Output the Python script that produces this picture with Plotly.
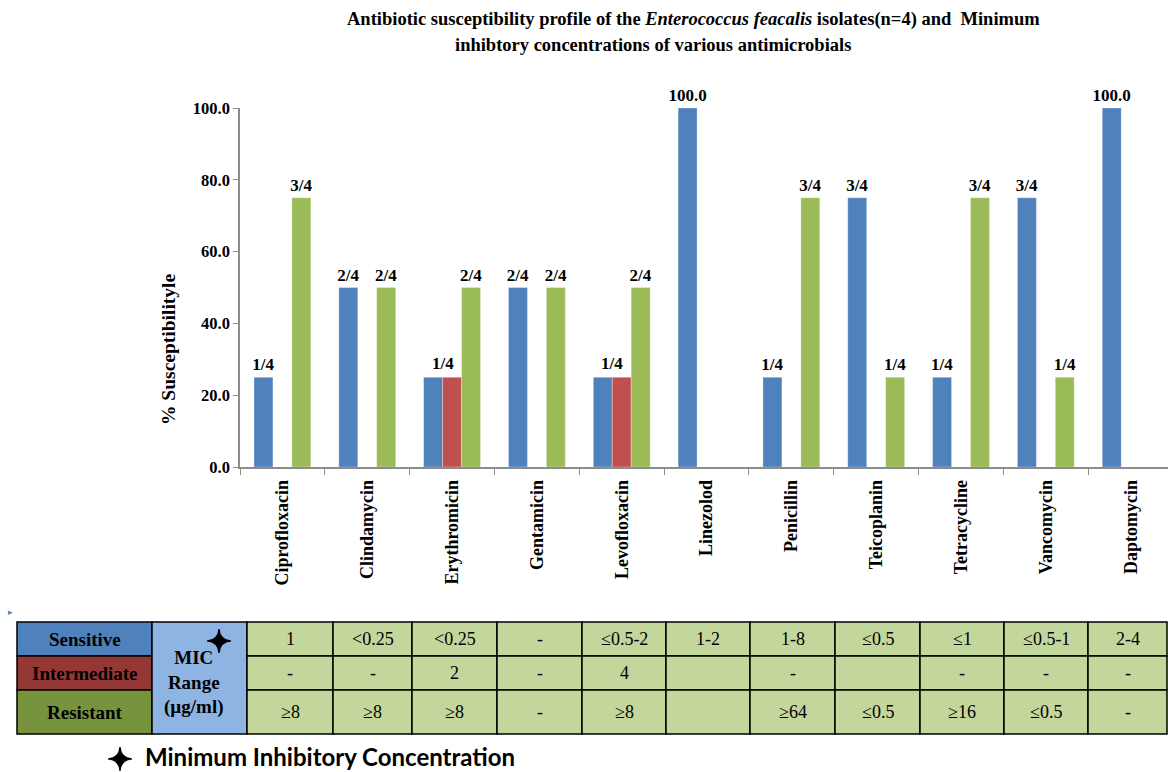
import plotly.graph_objects as go

# ---------------- data ----------------
antibiotics = ["Ciprofloxacin", "Clindamycin", "Erythromicin", "Gentamicin", "Levofloxacin",
               "Linezolod", "Penicillin", "Teicoplanin", "Tetracycline", "Vancomycin", "Daptomycin"]
sensitive = [25, 50, 25, 50, 25, 100, 25, 75, 25, 75, 100]
intermediate = [None, None, 25, None, 25, None, None, None, None, None, None]
resistant = [75, 50, 50, 50, 50, None, 75, 25, 75, 25, None]

sensitive_labels = ["1/4", "2/4", "", "2/4", "", "100.0", "1/4", "3/4", "1/4", "3/4", "100.0"]
intermediate_labels = ["", "", "1/4", "", "1/4", "", "", "", "", "", ""]
resistant_labels = ["3/4", "2/4", "2/4", "2/4", "2/4", "", "3/4", "1/4", "3/4", "1/4", ""]

mic_sensitive = ["1", "<0.25", "<0.25", "-", "≤0.5-2", "1-2", "1-8", "≤0.5", "≤1", "≤0.5-1", "2-4"]
mic_intermediate = ["-", "-", "2", "-", "4", "", "-", "", "-", "-", "-"]
mic_resistant = ["≥8", "≥8", "≥8", "-", "≥8", "", "≥64", "≤0.5", "≥16", "≤0.5", "-"]

row_names = ["Sensitive", "Intermediate", "Resistant"]
row_colors = ["#4F81BD", "#953735", "#77933C"]

W, H = 1168, 772
SERIF = "Liberation Serif, Times New Roman, serif"
BAR_W_PX = 19  # approximate rendered bar width, used to centre the shared labels

def px(x):
    return x / W

def py(y):
    return 1 - y / H

fig = go.Figure()
bar_text_font = dict(family=SERIF, size=17, color="black")
for name, vals, labels, color in [
    ("Sensitive", sensitive, sensitive_labels, "#4F81BD"),
    ("Intermediate", intermediate, [""] * len(antibiotics), "#C0504D"),
    ("Resistant", resistant, resistant_labels, "#9BBB59"),
]:
    fig.add_trace(go.Bar(
        x=antibiotics, y=vals, name=name,
        marker=dict(color=color, line=dict(color="rgba(255,255,255,0.6)", width=0.5)),
        text=["<b>%s</b>" % t if t else "" for t in labels], textposition="outside",
        textfont=bar_text_font, cliponaxis=False, constraintext="none",
    ))

fig.update_layout(
    width=W, height=H, autosize=False,
    margin=dict(l=0, r=0, t=0, b=0),
    paper_bgcolor="white", plot_bgcolor="white",
    barmode="group", bargap=0.33, bargroupgap=0,
    showlegend=False,
    xaxis=dict(domain=[px(240), 1.0], range=[-0.5, 10.44], type="category",
               showline=True, linecolor="#8C8C8C", linewidth=1.5,
               ticks="outside", tickson="boundaries", ticklen=6, tickcolor="#8C8C8C",
               tickangle=-90, tickfont=dict(family=SERIF, size=18, color="black"),
               ticklabelstandoff=4,
               showgrid=False, automargin=False,
               tickvals=antibiotics, ticktext=["<b>%s</b>" % a for a in antibiotics]),
    yaxis=dict(domain=[py(467), py(108)], range=[0, 100],
               tickvals=[0, 20, 40, 60, 80, 100],
               ticktext=["<b>%.1f</b>" % v for v in [0, 20, 40, 60, 80, 100]],
               showline=True, linecolor="#8C8C8C", linewidth=1.5,
               ticks="outside", ticklen=5, tickcolor="#8C8C8C",
               tickfont=dict(family=SERIF, size=16.5, color="black"),
               showgrid=False, zeroline=False, automargin=False),
)

ann = []
# shared labels for the sensitive/intermediate pairs
for a, v, t in zip(antibiotics, intermediate, intermediate_labels):
    if t:
        ann.append(dict(x=a, y=v, xref="x", yref="y", showarrow=False, text="<b>%s</b>" % t,
                        font=bar_text_font, xanchor="center", yanchor="bottom",
                        xshift=-BAR_W_PX / 2, yshift=2))
# title
ann.append(dict(x=px(693), y=py(20), xref="paper", yref="paper", showarrow=False,
                text="<b>Antibiotic susceptibility profile of the <i>Enterococcus feacalis</i> isolates(n=4) and  Minimum</b>",
                font=dict(family=SERIF, size=18.5, color="black"), xanchor="center", yanchor="middle"))
ann.append(dict(x=px(653), y=py(45), xref="paper", yref="paper", showarrow=False,
                text="<b>inhibtory concentrations of various antimicrobials</b>",
                font=dict(family=SERIF, size=18.5, color="black"), xanchor="center", yanchor="middle"))
# y title
ann.append(dict(x=px(168), y=py(350), xref="paper", yref="paper", showarrow=False, textangle=-90,
                text="<b>% Susceptibilityle</b>", font=dict(family=SERIF, size=19.5, color="black"),
                xanchor="center", yanchor="middle"))

# ---------------- table ----------------
col_edges = [17, 152, 247, 333, 412, 497, 582, 666, 750, 835, 920, 1004, 1088, 1167]
row_edges = [622, 656, 690, 734]
shapes = []
cell_line = dict(color="black", width=1.5)

def rect(x0, y0, x1, y1, fill):
    shapes.append(dict(type="rect", xref="paper", yref="paper",
                       x0=px(x0), x1=px(x1), y0=py(y1), y1=py(y0),
                       fillcolor=fill, line=cell_line, layer="above"))

def star(cx, cy, r):
    k = 0.07 * r
    pts = [(cx, cy - r), (cx + k, cy - k), (cx + r, cy), (cx + k, cy + k),
           (cx, cy + r), (cx - k, cy + k), (cx - r, cy), (cx - k, cy - k)]
    path = "M %f,%f" % (px(pts[0][0]), py(pts[0][1]))
    for i in range(1, 8, 2):
        c = pts[i]
        e = pts[(i + 1) % 8]
        path += " Q %f,%f %f,%f" % (px(c[0]), py(c[1]), px(e[0]), py(e[1]))
    path += " Z"
    shapes.append(dict(type="path", xref="paper", yref="paper", path=path,
                       fillcolor="black", line=dict(color="black", width=1.2), layer="above"))

for i, (nm, col) in enumerate(zip(row_names, row_colors)):
    rect(col_edges[0], row_edges[i], col_edges[1], row_edges[i + 1], col)
    ann.append(dict(x=px((col_edges[0] + col_edges[1]) / 2), y=py((row_edges[i] + row_edges[i + 1]) / 2),
                    xref="paper", yref="paper", showarrow=False, text="<b>%s</b>" % nm,
                    font=dict(family=SERIF, size=19, color="black"), xanchor="center", yanchor="middle"))

rect(col_edges[1], row_edges[0], col_edges[2], row_edges[3], "#8DB4E2")
ann.append(dict(x=px(194), y=py(682), xref="paper", yref="paper", showarrow=False,
                text="<b>MIC</b><br><b>Range</b><br><b>(µg/ml)</b>",
                font=dict(family=SERIF, size=19, color="black"), xanchor="center", yanchor="middle"))

for r, vals in enumerate([mic_sensitive, mic_intermediate, mic_resistant]):
    for c, v in enumerate(vals):
        x0, x1 = col_edges[c + 2], col_edges[c + 3]
        y0, y1 = row_edges[r], row_edges[r + 1]
        rect(x0, y0, x1, y1, "#C3D69B")
        if v:
            ann.append(dict(x=px((x0 + x1) / 2), y=py((y0 + y1) / 2), xref="paper", yref="paper",
                            showarrow=False, text=v, font=dict(family=SERIF, size=18, color="black"),
                            xanchor="center", yanchor="middle"))

star(219, 641, 12)

# small marker at the left edge
ann.append(dict(x=px(10), y=py(612), xref="paper", yref="paper", showarrow=False,
                text="▸", font=dict(family="DejaVu Sans", size=9, color="#4F81BD"),
                xanchor="center", yanchor="middle"))

# footnote
star(120, 759, 12)
ann.append(dict(x=px(143), y=py(756), xref="paper", yref="paper", showarrow=False,
                text="<b>Minimum Inhibitory Concentration</b>",
                font=dict(family="Lato, Open Sans, sans-serif", size=24, color="black"),
                xanchor="left", yanchor="middle"))

fig.update_layout(annotations=ann, shapes=shapes)
fig.write_html("out.html")
